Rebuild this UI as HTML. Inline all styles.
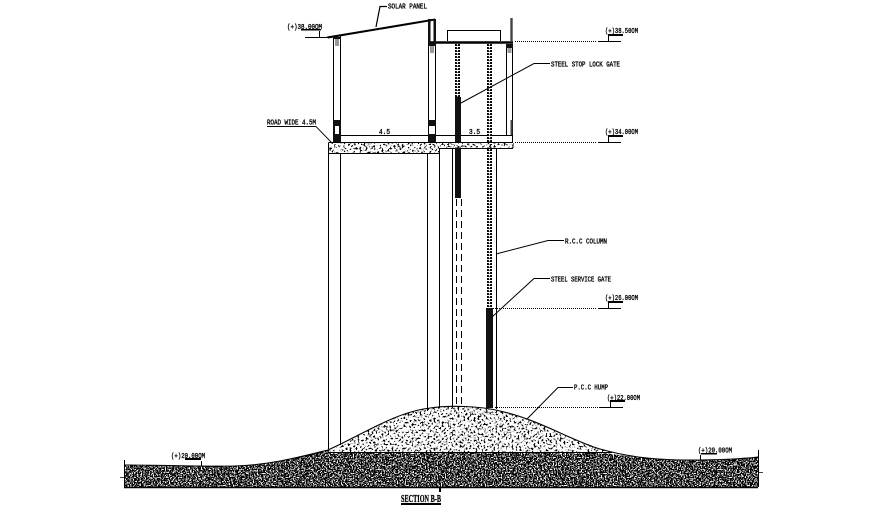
<!DOCTYPE html>
<html><head><meta charset="utf-8"><style>
html,body{margin:0;padding:0;background:#fff}
svg{display:block}
text{font-family:"Liberation Mono",monospace;font-size:7.500px;fill:#000;stroke:#000;stroke-width:.35}
</style></head><body>
<svg width="893" height="507" viewBox="0 0 893 507" xmlns="http://www.w3.org/2000/svg">
<defs>
<filter id="nd" x="0" y="0" width="100%" height="100%" color-interpolation-filters="sRGB">
<feTurbulence type="fractalNoise" baseFrequency="0.75" numOctaves="2" seed="4"/>
<feColorMatrix type="matrix" values="1 0 0 0 0 1 0 0 0 0 1 0 0 0 0 0 0 0 0 1"/>
<feComponentTransfer><feFuncR type="linear" slope="12" intercept="-6.2"/><feFuncG type="linear" slope="12" intercept="-6.2"/><feFuncB type="linear" slope="12" intercept="-6.2"/></feComponentTransfer>
</filter>
<filter id="nl" x="0" y="0" width="100%" height="100%" color-interpolation-filters="sRGB">
<feTurbulence type="fractalNoise" baseFrequency="0.5" numOctaves="2" seed="9"/>
<feColorMatrix type="matrix" values="1 0 0 0 0 1 0 0 0 0 1 0 0 0 0 0 0 0 0 1"/>
<feComponentTransfer><feFuncR type="linear" slope="14" intercept="-5.1"/><feFuncG type="linear" slope="14" intercept="-5.1"/><feFuncB type="linear" slope="14" intercept="-5.1"/></feComponentTransfer>
</filter>
<clipPath id="g"><path d="M124 465 C170 465 200 467 235 466 C270 465 300 457 328 450 L340 452 L600 452 C625 456 650 460 690 460 C720 460 740 459 758 457 L758 487 L124 487Z"/></clipPath>
<clipPath id="h"><path d="M328 452 C360 436 395 412 430 408 C450 405 480 406 500 411 C540 420 570 440 612 452Z"/></clipPath>
<clipPath id="s"><path d="M329 143H439V153H329ZM439 143H513V147.500H439Z"/></clipPath>
</defs>

<!-- terrain -->
<g clip-path="url(#g)"><rect x="120" y="445" width="642" height="45" filter="url(#nd)"/></g>
<g clip-path="url(#h)"><rect x="325" y="400" width="300" height="54" filter="url(#nl)"/></g>
<g fill="none" stroke="#000">
<path d="M124 465 C170 465 200 467 235 466 C270 465 300 457 328 450 C360 436 395 412 430 408 C450 405 480 406 500 411 C540 420 570 440 600 449 C625 456 650 460 690 460 C720 460 740 459 758 457" stroke-width="1.100"/>
<path d="M328 452.500H612" stroke-width="1"/>
<path d="M124 487.500H758" stroke-width="1.500"/>
<path d="M124.500 460V487M758.500 450V487" stroke-width="1"/>
<path d="M120 477.500H124M758 472.500H763" stroke-width=".8"/>
</g>

<!-- columns -->
<g stroke="#000" stroke-width="1" fill="none">
<path d="M328.500 153V449M340.500 153V445M427.500 153V411M439.500 153V408M452.500 148V408M496.500 148V409"/>
<path d="M333.500 37V142M340.500 36V142M428.500 20V142M435.500 19V142"/>
<path d="M506.500 44V135M512.500 44V143"/>
<path d="M336 135.500H512"/>
<path d="M430 42.500H513" stroke-width="2.400"/>
<path d="M447.500 41V30.500H500.500V41"/>
<path d="M328.500 142.500H513M328.500 153.500H439M513 143V148M440 148.500H513M328.500 142.500V153M439.500 148V153"/>
</g>
<path d="M511.500 18V42" stroke="#444" stroke-width="2.400"/>
<path d="M511.500 120V135" stroke="#444" stroke-width="2"/>
<path d="M327 36.500L435 18.500L435 20.500L328 38.500Z" fill="#000"/>
<g fill="#111">
<rect x="333" y="37" width="8" height="2"/><rect x="333" y="120" width="8" height="6"/><rect x="333" y="126" width="2" height="16"/><rect x="339" y="126" width="2" height="16"/><rect x="333" y="134" width="8" height="8"/>
<rect x="428" y="19" width="2.500" height="24"/><rect x="433.500" y="19" width="2.500" height="24"/><rect x="428" y="43" width="8" height="3"/>
<rect x="428" y="120" width="8" height="6"/><rect x="428" y="134" width="8" height="8"/>
<rect x="506" y="44" width="7" height="4"/><rect x="455" y="97" width="6" height="101"/><rect x="486" y="308" width="7" height="100"/>
<rect x="455" y="143" width="6" height="6"/>
</g>
<g fill="#999"><rect x="335" y="39" width="4" height="7"/><rect x="430" y="46" width="4" height="7"/><rect x="507.500" y="48" width="4" height="5"/></g>

<!-- rebar -->
<g fill="none" stroke="#000">
<path d="M457.500 44V97" stroke-width="5" stroke-dasharray="2 1"/>
<path d="M489.500 44V308" stroke-width="5" stroke-dasharray="2 1"/>
</g>
<g fill="none" stroke="#fff" stroke-width="1.200"><path d="M457.500 44V97M489.500 44V308" stroke-dasharray="1.500 1.500"/></g>
<g fill="none" stroke="#000" stroke-width="1" stroke-dasharray="7 4"><path d="M456.500 199V408M461.500 199V408"/></g>

<!-- slab -->
<g clip-path="url(#s)"><rect x="328" y="142" width="186" height="12" filter="url(#nl)"/></g>
<path d="M328.500 142.500H513M328.500 153.500H439" stroke="#000" stroke-width="1" fill="none"/>

<!-- level lines -->
<g fill="none" stroke="#000" stroke-width="1" stroke-dasharray="1 1">
<path d="M515 41.500H597M515 142.500H597M493 308.500H597M495 407.500H600"/>
</g>
<g fill="none" stroke="#000" stroke-width="1">
<path d="M598 41.500H621M598 142.500H621M598 308.500H621M600 407.500H623"/>
<path d="M305 37.500H328"/>
<path d="M608.500 36V41M608.500 137V142M608.500 303V308M610.500 402V407M319.500 31V37M201.500 461V466M700.500 455V460"/>
<path d="M316 126.500H267M316 126.500L332 143" stroke-width=".9"/>
<path d="M376 27L380 6.500H387" stroke-width="1.200"/>
<path d="M461 103L534 63.500H550"/>
<path d="M496 254L548 240.500H564"/>
<path d="M492 317L534 278.500H550"/>
<path d="M527 419L558 387.500H573"/>
<path d="M440 487V492" stroke-width="2"/>
</g>
<g fill="#000">
<rect x="608" y="34" width="15" height="2"/><rect x="608" y="135" width="15" height="2"/><rect x="608" y="301" width="15" height="2"/><rect x="610" y="400" width="15" height="2"/>
<rect x="301" y="29" width="20" height="1.500"/><rect x="185" y="458" width="16" height="2"/><rect x="701" y="453" width="16" height="1.500"/>
</g>

<!-- labels -->
<text x="388" y="8.500" textLength="39" lengthAdjust="spacingAndGlyphs">SOLAR PANEL</text>
<text x="287" y="29" textLength="35" lengthAdjust="spacingAndGlyphs">(+)38.00OM</text>
<text x="267" y="124.500" textLength="49" lengthAdjust="spacingAndGlyphs">ROAD WIDE 4.5M</text>
<text x="379" y="134" textLength="11" lengthAdjust="spacingAndGlyphs">4.5</text>
<text x="469" y="134" textLength="11" lengthAdjust="spacingAndGlyphs">3.5</text>
<text x="605" y="33" textLength="33" lengthAdjust="spacingAndGlyphs">(+)38.50OM</text>
<text x="605" y="134" textLength="33" lengthAdjust="spacingAndGlyphs">(+)34.00OM</text>
<text x="605" y="300" textLength="33" lengthAdjust="spacingAndGlyphs">(+)26.00OM</text>
<text x="607" y="400" textLength="33" lengthAdjust="spacingAndGlyphs">(+)22.00OM</text>
<text x="551" y="66.500" textLength="69" lengthAdjust="spacingAndGlyphs">STEEL STOP LOCK GATE</text>
<text x="565" y="243.500" textLength="42" lengthAdjust="spacingAndGlyphs">R.C.C COLUMN</text>
<text x="551" y="281.500" textLength="60" lengthAdjust="spacingAndGlyphs">STEEL SERVICE GATE</text>
<text x="574" y="389.500" textLength="34" lengthAdjust="spacingAndGlyphs">P.C.C HUMP</text>
<text x="171" y="458" textLength="34" lengthAdjust="spacingAndGlyphs">(+)20.00OM</text>
<text x="698" y="452.500" textLength="34" lengthAdjust="spacingAndGlyphs">(+)20.00OM</text>
<text x="401" y="502" textLength="40" lengthAdjust="spacingAndGlyphs" style="font-family:'Liberation Serif',serif;font-size:11px;font-weight:bold;stroke-width:.3">SECTION  B-B</text>
<rect x="401" y="503" width="40" height="2" fill="#000"/>
</svg>
</body></html>
